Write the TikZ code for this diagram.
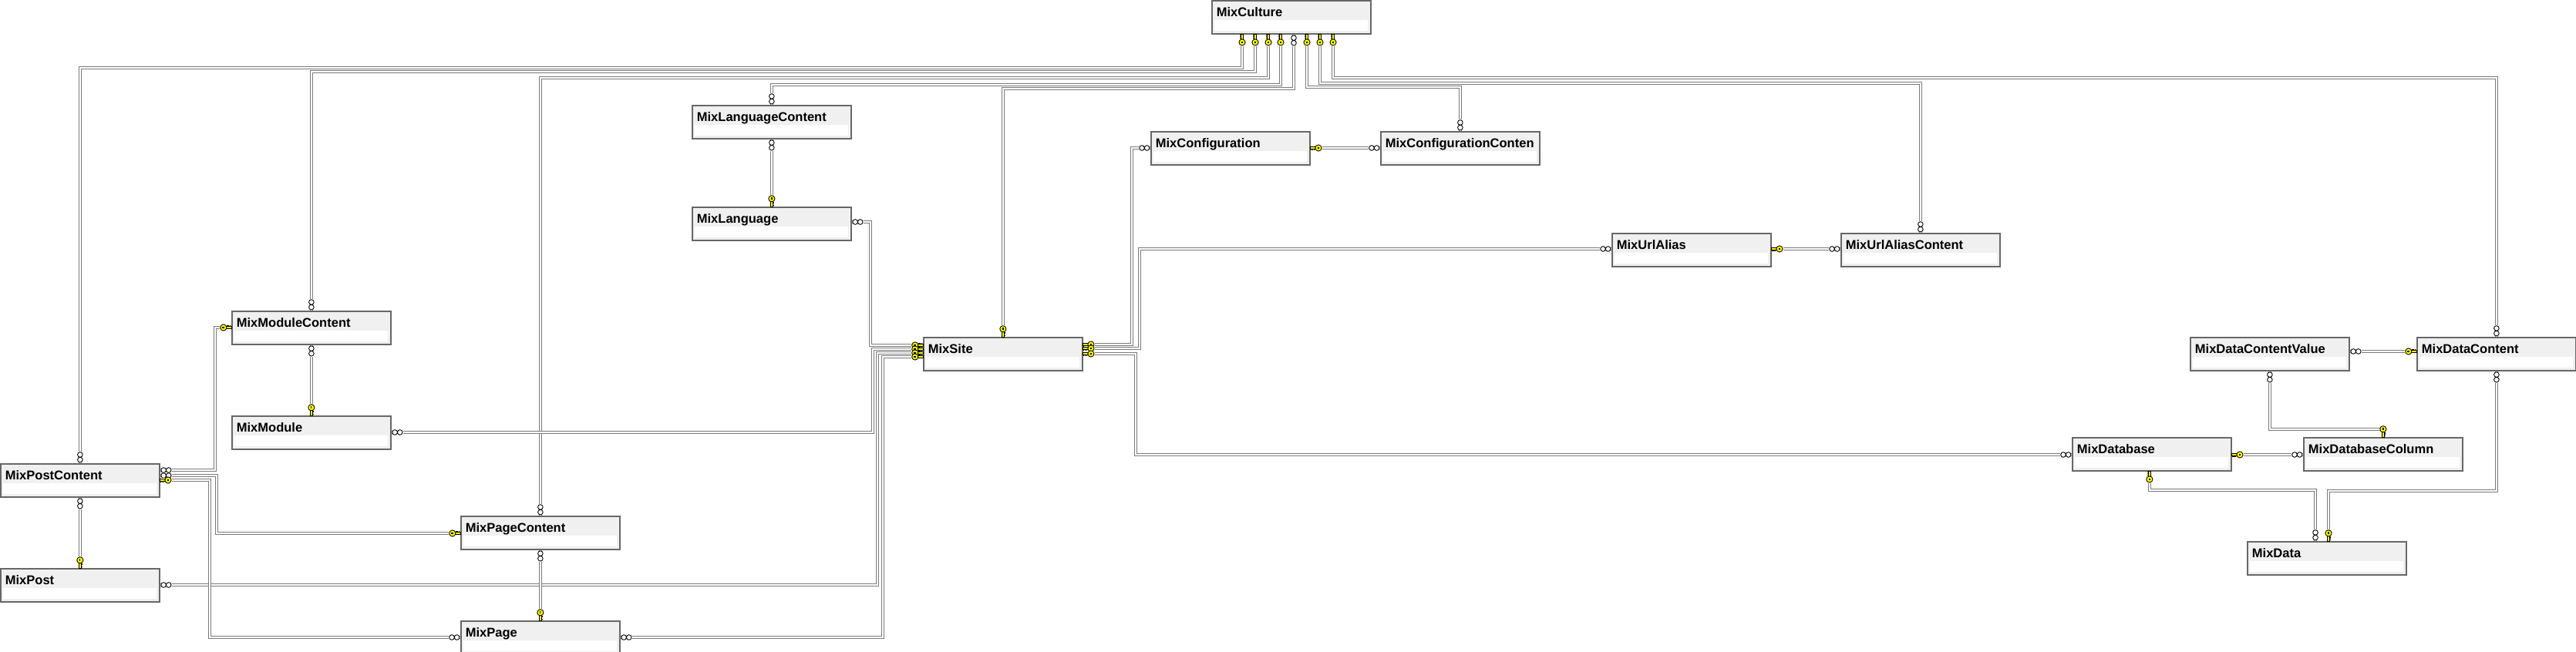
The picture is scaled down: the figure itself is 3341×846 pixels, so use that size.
\documentclass[tikz,border=0pt]{standalone}
\usepackage{fontspec}
\setmainfont{Liberation Sans}
\usepackage{xcolor}
\usepackage{tikz}
\usetikzlibrary{calc,decorations.markings}
\definecolor{tblgray}{HTML}{676767}
\definecolor{tblfill}{HTML}{F0F0F0}
\definecolor{relgray}{HTML}{7A7A7A}
\definecolor{keyyellow}{HTML}{FFFF00}
\newcommand\tblfont{\fontsize{4.7}{5.6}\selectfont\bfseries\hyphenpenalty=10000\relax}
% end symbols, drawn along +x away from the table edge
\newcommand\keysym[1]{%
  \begin{scope}[rotate=#1]
    \fill[white] (1,-2.6) rectangle (15,2.6);
    \draw[line width=.25pt, fill=keyyellow] (0,-1.3) rectangle (6.5,1.3);
    \draw[line width=.3pt] (1.2,1.3) -- (1.2,3.2) (3.2,1.3) -- (3.2,2.6) (5,1.3) -- (5,3);
    \draw[line width=.25pt, fill=keyyellow] (10.2,0) circle (4.1);
    \draw[line width=.35pt] (8.8,0) -- (11.6,0);
  \end{scope}}
\newcommand\manysym[1]{%
  \begin{scope}[rotate=#1]
    \fill[white] (1,-2.6) rectangle (15,2.6);
    \draw[line width=.25pt, fill=white] (4.4,0) circle (3.3) (11,0) circle (3.3);
  \end{scope}}
\tikzset{
  tbl/.style   ={rectangle, draw=tblgray, line width=.5pt, fill=tblfill, anchor=north west,
                 minimum width=20.6mm, minimum height=4.3mm, text width=19.4mm, inner xsep=.6mm, inner ysep=0pt,
                 text height=2.1mm, text depth=2.2mm, align=left, font=\tblfont,
                 path picture={\fill[white] ([xshift=.35mm,yshift=1.8mm]path picture bounding box.south west)
                   rectangle ([xshift=-.35mm,yshift=.4mm]path picture bounding box.south east);}},
  rel/.style   ={preaction={draw=relgray, line width=.4pt, double=white, double distance=.45pt}},
  keyS/.style  ={postaction={decorate, decoration={markings, mark=at position 0 with {\keysym{0}}}}},
  keyE/.style  ={postaction={decorate, decoration={markings, mark=at position 1 with {\keysym{180}}}}},
  manyS/.style ={postaction={decorate, decoration={markings, mark=at position 0 with {\manysym{0}}}}},
  manyE/.style ={postaction={decorate, decoration={markings, mark=at position 1 with {\manysym{180}}}}},
}
\begin{document}
\begin{tikzpicture}[x=0.1mm, y=-0.1mm]
  \useasboundingbox (0,0) rectangle (3341,846);

  % tables
  \node[tbl] (culture) at (1571,0)   {MixCulture};
  \node[tbl] (langc)   at (897,136)  {MixLanguageContent};
  \node[tbl] (lang)    at (897,268)  {MixLanguage};
  \node[tbl] (conf)    at (1492,170) {MixConfiguration};
  \node[tbl] (confc)   at (1790,170) {MixConfigurationConten};
  \node[tbl] (url)     at (2090,302) {MixUrlAlias};
  \node[tbl] (urlc)    at (2387,302) {MixUrlAliasContent};
  \node[tbl] (modc)    at (300,403)  {MixModuleContent};
  \node[tbl] (mod)     at (300,539)  {MixModule};
  \node[tbl] (site)    at (1197,437) {MixSite};
  \node[tbl] (postc)   at (0,601)    {MixPostContent};
  \node[tbl] (post)    at (0,737)    {MixPost};
  \node[tbl] (pagec)   at (597,669)  {MixPageContent};
  \node[tbl] (page)    at (597,805)  {MixPage};
  \node[tbl] (dcv)     at (2840,437) {MixDataContentValue};
  \node[tbl] (dc)      at (3134,437) {MixDataContent};
  \node[tbl] (db)      at (2687,567) {MixDatabase};
  \node[tbl] (dbcol)   at (2987,567) {MixDatabaseColumn};
  \node[tbl] (data)    at (2914,702) {MixData};

  % relations out of MixCulture
  \path[rel, keyS, manyE] ($(culture.south west)+(40,0)$)  -- ++(0,43) -| (postc.north);
  \path[rel, keyS, manyE] ($(culture.south west)+(57,0)$)  -- ++(0,48) -| (modc.north);
  \path[rel, keyS, manyE] ($(culture.south west)+(74,0)$)  -- ++(0,56) -| (pagec.north);
  \path[rel, keyS, manyE] ($(culture.south west)+(90,0)$)  -- ++(0,65) -| (langc.north);
  \path[rel, manyS, keyE] ($(culture.south west)+(107,0)$) -- ++(0,70) -| (site.north);
  \path[rel, keyS, manyE] ($(culture.south west)+(124,0)$) -- ++(0,68) -| (confc.north);
  \path[rel, keyS, manyE] ($(culture.south west)+(141,0)$) -- ++(0,63) -| (urlc.north);
  \path[rel, keyS, manyE] ($(culture.south west)+(158,0)$) -- ++(0,56) -| (dc.north);

  % into MixSite
  \path[rel, manyS, keyE] ($(lang.north east)+(0,20)$) -- ++(24,0)  |- ($(site.north west)+(0,11)$);
  \path[rel, manyS, keyE] ($(mod.north east)+(0,22)$)  -- ++(624,0) |- ($(site.north west)+(0,16)$);
  \path[rel, manyS, keyE] ($(post.north east)+(0,22)$) -- ++(930,0) |- ($(site.north west)+(0,21)$);
  \path[rel, manyS, keyE] ($(page.north east)+(0,22)$) -- ++(340,0) |- ($(site.north west)+(0,26)$);
  \path[rel, keyS, manyE] ($(site.north east)+(0,10)$) -- ++(63,0)  |- ($(conf.north west)+(0,22)$);
  \path[rel, keyS, manyE] ($(site.north east)+(0,15)$) -- ++(73,0)  |- ($(url.north west)+(0,21)$);
  \path[rel, keyS, manyE] ($(site.north east)+(0,22)$) -- ++(68,0)  |- ($(db.north west)+(0,23)$);

  % content tables
  \path[rel, manyS, keyE] ($(confc.north west)+(0,22)$) -- ($(conf.north east)+(0,22)$);
  \path[rel, manyS, keyE] ($(urlc.north west)+(0,21)$)  -- ($(url.north east)+(0,21)$);
  \path[rel, manyS, keyE] (langc.south) -- (lang.north);
  \path[rel, manyS, keyE] (modc.south)  -- (mod.north);
  \path[rel, manyS, keyE] (postc.south) -- (post.north);
  \path[rel, manyS, keyE] (pagec.south) -- (page.north);
  \path[rel, manyS, keyE] ($(postc.north east)+(0,9)$)  -- ++(71,0) |- ($(modc.north west)+(0,22)$);
  \path[rel, manyS, keyE] ($(postc.north east)+(0,16)$) -- ++(73,0) |- ($(pagec.north west)+(0,23)$);
  \path[rel, keyS, manyE] ($(postc.north east)+(0,22)$) -- ++(64,0) |- ($(page.north west)+(0,22)$);

  % data tables
  \path[rel, manyS, keyE] ($(dcv.north east)+(0,19)$)    -- ($(dc.north west)+(0,19)$);
  \path[rel, manyS, keyE] (dcv.south) -- ++(0,75) -| (dbcol.north);
  \path[rel, manyS, keyE] ($(dbcol.north west)+(0,23)$) -- ($(db.north east)+(0,23)$);
  \path[rel, keyS, manyE] ($(db.south)+(-3,0)$) -- ++(0,24) -| ($(data.north west)+(89,0)$);
  \path[rel, manyS, keyE] (dc.south) -- ++(0,155) -| ($(data.north west)+(106,0)$);
\end{tikzpicture}
\end{document}
